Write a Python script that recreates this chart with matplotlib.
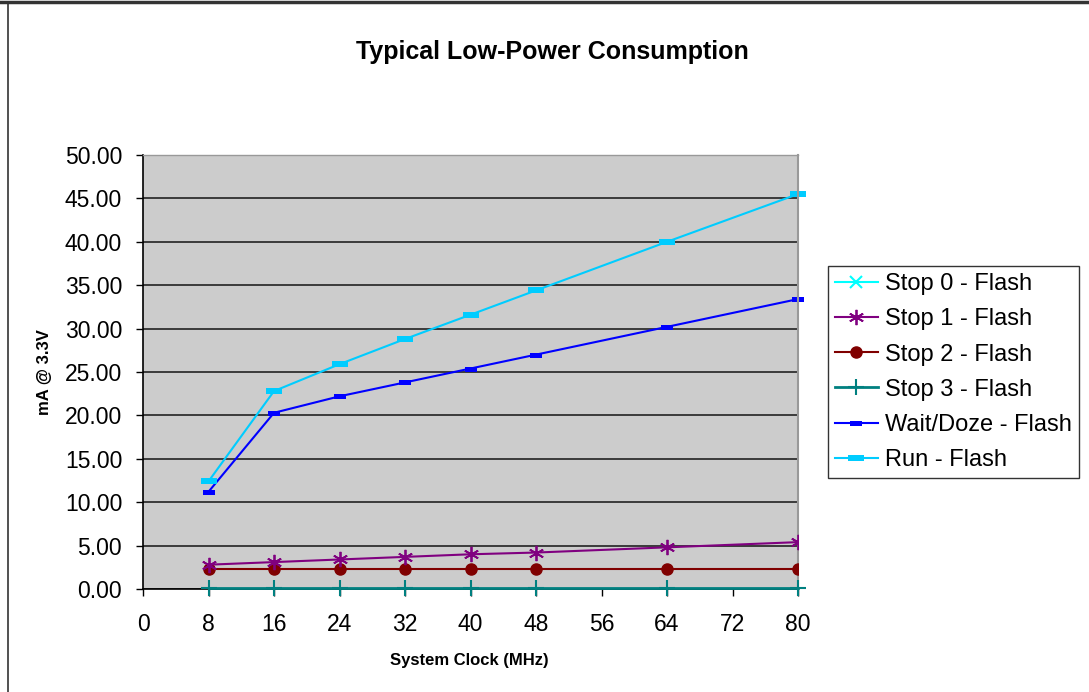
import matplotlib
matplotlib.use("Agg")
import matplotlib.pyplot as plt
from matplotlib.lines import Line2D
from matplotlib.path import Path

plt.rcParams['font.family'] = ['Liberation Sans', 'DejaVu Sans']

clock = [8, 16, 24, 32, 40, 48, 64, 80]
stop0 = []
stop1 = [2.8, 3.1, 3.4, 3.7, 4.0, 4.2, 4.8, 5.4]
stop2 = [2.35, 2.35, 2.35, 2.35, 2.35, 2.35, 2.35, 2.35]
stop3 = [0.1, 0.1, 0.1, 0.1, 0.1, 0.1, 0.1, 0.1]
wait = [11.2, 20.3, 22.2, 23.8, 25.4, 27.0, 30.2, 33.4]
run = [12.4, 22.8, 25.9, 28.8, 31.6, 34.4, 40.0, 45.5]

xticks = [0, 8, 16, 24, 32, 40, 48, 56, 64, 72, 80]
yticks = [0, 5, 10, 15, 20, 25, 30, 35, 40, 45, 50]

fig = plt.figure(figsize=(10.89, 6.92), dpi=100)
ax = fig.add_axes([143/1089, 1-589/692, (798-143)/1089, (589-155)/692])
ax.set_facecolor('#CCCCCC')

rect = Path([(-1, -0.45), (1, -0.45), (1, 0.45), (-1, 0.45), (-1, -0.45)],
            [Path.MOVETO, Path.LINETO, Path.LINETO, Path.LINETO, Path.CLOSEPOLY])

ax.plot(clock[:len(stop0)], stop0, color='#00FFFF', marker='x', lw=1.5, ms=9, mew=1.5, label='Stop 0 - Flash')
ax.plot(clock, stop1, color='#800080', marker=(6, 2, 0), lw=1.5, ms=11, mew=1.3, label='Stop 1 - Flash', zorder=4)
ax.plot(clock, stop2, color='#800000', marker='o', lw=1.5, ms=8, label='Stop 2 - Flash', zorder=3)
ax.plot(clock, stop3, color='#008080', marker='+', lw=2, ms=11, mew=1.5, label='Stop 3 - Flash', clip_on=False, zorder=5)
ax.plot(clock, wait, color='#0000FF', marker=rect, lw=1.5, ms=8, mew=0, label='Wait/Doze - Flash', clip_on=False)
ax.plot(clock, run, color='#00CCFF', marker=rect, lw=1.5, ms=11, mew=0, label='Run - Flash', clip_on=False)

ax.set_xlim(0, 80)
ax.set_ylim(0, 50)
ax.set_xticks(xticks)
ax.set_yticks(yticks)
ax.set_yticklabels([f'{v:.2f}' for v in yticks])
ax.tick_params(axis='both', labelsize=16.5, length=5, width=1, direction='out', color='black')
ax.tick_params(axis='x', pad=12)
ax.tick_params(axis='y', pad=10)
ax.yaxis.grid(True, color='#222222', lw=1.2)
ax.set_axisbelow(True)
ax.spines['left'].set_color('black')
ax.spines['bottom'].set_color('black')
ax.spines['left'].set_linewidth(1.2)
ax.spines['bottom'].set_linewidth(1.2)
ax.spines['right'].set_color('#999999')
ax.spines['top'].set_color('#999999')
ax.spines['right'].set_linewidth(1.5)
ax.spines['top'].set_linewidth(1.0)

fig.text(552/1089, 1-52/692, 'Typical Low-Power Consumption', ha='center', va='center', fontsize=18, fontweight='bold')
fig.text(469/1089, 1-660/692, 'System Clock (MHz)', ha='center', va='center', fontsize=12, fontweight='bold')
fig.text(44/1089, 1-372/692, 'mA @ 3.3V', ha='center', va='center', fontsize=12, fontweight='bold', rotation=90)

leg = fig.legend(loc='upper left', bbox_to_anchor=(828/1089, 1-266/692), fontsize=17,
                 frameon=True, fancybox=False, shadow=False, borderpad=0.3,
                 labelspacing=0.56, handlelength=1.8, handletextpad=0.3, borderaxespad=0)
leg.get_frame().set_edgecolor('black')
leg.get_frame().set_linewidth(1.0)

fig.add_artist(Line2D([0, 1], [1-2/692, 1-2/692], transform=fig.transFigure, color='#333333', lw=2.5))
fig.add_artist(Line2D([8/1089, 8/1089], [0, 1-2/692], transform=fig.transFigure, color='#333333', lw=1.2))

fig.savefig('out.png', dpi=100)
